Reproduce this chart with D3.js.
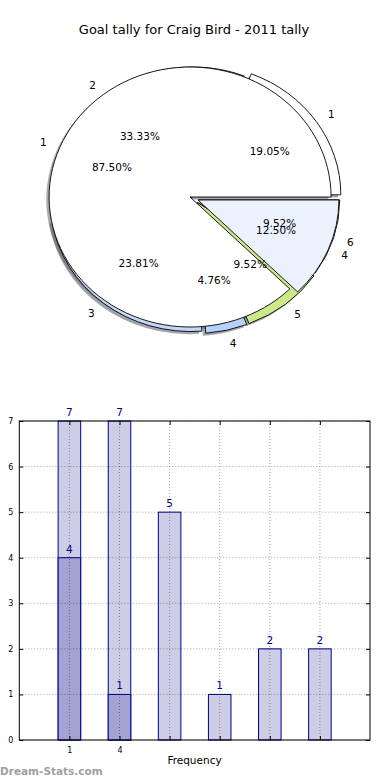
<!DOCTYPE html>
<html><head><meta charset="utf-8">
<script src="https://cdn.jsdelivr.net/npm/d3@7"></script>
<style>
html,body{margin:0;padding:0;background:#fff;}
svg{display:block;font-family:"DejaVu Sans",sans-serif;}
</style></head>
<body><svg id="c" width="390" height="780"></svg>
<script>
// ---- data ----
const title = "Goal tally for Craig Bird - 2011 tally";
const outerLabels = ["1","2","3","4","5","6"];
const outerValues = [4,7,5,1,2,2];
const outerColors = ["#ffffff","#ffffff","#c4d8f8","#b8d1fa","#cde88c","#ffffff"];
const outerExplode = [0.05,0.015,0.03,0.04,0.04,0.035];
const innerLabels = ["1","4"];
const innerValues = [7,1];
const innerColors = ["#ffffff","#ebf1fd"];
const innerExplode = [0.03,0.03];
const barTotals = [7,7,5,1,2,2];
const barOverlay = [4,1];
const xTickLabels = ["1","4"];
const yTicks = [0,1,2,3,4,5,6,7];
const xLabel = "Frequency";
const watermark = "Dream-Stats.com";

(function(){
const svg = d3.select("#c");

svg.append("text").attr("x",194).attr("y",34).attr("text-anchor","middle")
  .attr("font-size",13).attr("fill","#000").text(title);

// ---- pies ----
const cx = 194, cy = 198.5, rx = 141, ry = 130;
const k = ry/rx;
const pieGen = d3.pie().sort(null).startAngle(0).endAngle(2*Math.PI);
const arcGen = d3.arc().innerRadius(0).outerRadius(rx);
const fmt = v => v.toFixed(2) + "%";

function build(values, labels, colors, explode) {
  const total = d3.sum(values);
  return pieGen(values).map((d,i) => {
    const t1 = d.startAngle, t2 = d.endAngle, tm = (t1+t2)/2;
    const e = explode[i];
    return {
      i, label: labels[i], value: values[i], pct: 100*values[i]/total, color: colors[i],
      a0: Math.PI/2 - t2, a1: Math.PI/2 - t1, tm,
      ox: cx + e*rx*Math.cos(tm), oy: cy - e*ry*Math.sin(tm)
    };
  });
}
const outer = build(outerValues, outerLabels, outerColors, outerExplode);
const inner = build(innerValues, innerLabels, innerColors, innerExplode);

const pieG = svg.append("g");
function wedges(data, cls, shadow) {
  pieG.selectAll("path."+cls).data(data).enter().append("path")
    .attr("class", cls)
    .attr("transform", d => shadow
      ? `translate(${d.ox-2.8},${d.oy+2.6}) scale(1,${k})`
      : `translate(${d.ox},${d.oy}) scale(1,${k})`)
    .attr("d", d => arcGen({startAngle:d.a0, endAngle:d.a1}))
    .attr("fill", d => shadow ? d3.color(d.color).darker(3).formatHex() : d.color)
    .attr("fill-opacity", shadow ? 0.5 : 1)
    .attr("stroke", shadow ? "none" : "#000")
    .attr("stroke-width", 0.9)
    .attr("stroke-linejoin","miter")
    .attr("vector-effect","non-scaling-stroke");
}
wedges(outer,"os",true);
wedges(inner,"is",true);
wedges(outer,"ow",false);
wedges(inner,"iw",false);

function labelsFor(data) {
  pieG.selectAll(null).data(data).enter().append("text")
    .attr("x", d => d.ox + 1.1*rx*Math.cos(d.tm))
    .attr("y", d => d.oy - 1.1*ry*Math.sin(d.tm))
    .attr("text-anchor", d => Math.cos(d.tm) > 0 ? "start" : "end")
    .attr("dominant-baseline","central")
    .attr("font-size",10.5).attr("fill","#000")
    .text(d => d.label);
  pieG.selectAll(null).data(data).enter().append("text")
    .attr("x", d => d.ox + 0.6*rx*Math.cos(d.tm))
    .attr("y", d => d.oy - 0.6*ry*Math.sin(d.tm))
    .attr("text-anchor","middle")
    .attr("dominant-baseline","central")
    .attr("font-size",10.5).attr("fill","#000")
    .text(d => fmt(d.pct));
}
labelsFor(outer);
labelsFor(inner);

// ---- bars ----
const pL = 19.3, pR = 370, pT = 421, pB = 740;
const x = d3.scaleLinear().domain([-1,6]).range([pL,pR]);
const y = d3.scaleLinear().domain([0,7]).range([pB,pT]);
const bw = x(0.45) - x(0);
const idx = barTotals.map((v,i)=>i);
const barG = svg.append("g");

barG.selectAll("rect.tot").data(barTotals).enter().append("rect")
  .attr("x",(d,i)=>x(i)-bw/2).attr("y",d=>y(d))
  .attr("width",bw).attr("height",d=>y(0)-y(d))
  .attr("fill","#cdcde6").attr("stroke","#00008b").attr("stroke-width",1);
barG.selectAll("rect.ov").data(barOverlay).enter().append("rect")
  .attr("x",(d,i)=>x(i)-bw/2).attr("y",d=>y(d))
  .attr("width",bw).attr("height",d=>y(0)-y(d))
  .attr("fill","#a3a3d1").attr("stroke","#00008b").attr("stroke-width",1);

// grid (drawn above bars)
const gridG = svg.append("g").attr("stroke","#000").attr("stroke-opacity",0.35)
  .attr("stroke-width",1).attr("stroke-dasharray","1,2");
gridG.selectAll(null).data(idx).enter().append("line")
  .attr("x1",d=>x(d)).attr("x2",d=>x(d)).attr("y1",pT).attr("y2",pB);
gridG.selectAll(null).data(yTicks).enter().append("line")
  .attr("x1",pL).attr("x2",pR).attr("y1",d=>y(d)).attr("y2",d=>y(d));

// value labels
const lab = svg.append("g").attr("font-size",10.5).attr("fill","#00008b").attr("text-anchor","middle");
lab.selectAll(null).data(barTotals).enter().append("text")
  .attr("x",(d,i)=>x(i)).attr("y",d=>y(d)-5).text(d=>d);
lab.selectAll(null).data(barOverlay).enter().append("text")
  .attr("x",(d,i)=>x(i)).attr("y",d=>y(d)-5).text(d=>d);

// axes
const yAx = svg.append("g").attr("transform",`translate(${pL},0)`)
  .call(d3.axisLeft(y).tickValues(yTicks).tickFormat(d3.format("d")).tickSizeInner(-4).tickSizeOuter(0).tickPadding(6));
const yAxR = svg.append("g").attr("transform",`translate(${pR},0)`)
  .call(d3.axisRight(y).tickValues(yTicks).tickSizeInner(-4).tickSizeOuter(0).tickFormat(""));
const xAx = svg.append("g").attr("transform",`translate(0,${pB})`)
  .call(d3.axisBottom(x).tickValues(idx).tickSizeInner(-4).tickSizeOuter(0).tickPadding(7)
    .tickFormat((d,i)=> xTickLabels[i] || ""));
const xAxT = svg.append("g").attr("transform",`translate(0,${pT})`)
  .call(d3.axisTop(x).tickValues(idx).tickSizeInner(-4).tickSizeOuter(0).tickFormat(""));
[yAx,yAxR,xAx,xAxT].forEach(g=>{
  g.select(".domain").remove();
  g.selectAll("text").attr("font-family","DejaVu Sans").attr("font-size",8).attr("fill","#000");
  g.selectAll("line").attr("stroke","#000");
});
svg.append("rect").attr("x",pL).attr("y",pT).attr("width",pR-pL).attr("height",pB-pT)
  .attr("fill","none").attr("stroke","#000").attr("stroke-width",1);

svg.append("text").attr("x",194.5).attr("y",764).attr("text-anchor","middle")
  .attr("font-size",10.5).attr("fill","#000").text(xLabel);
svg.append("text").attr("x",0).attr("y",775).attr("font-size",10.5).attr("font-weight","bold")
  .attr("fill","#a0a0a0").text(watermark);
})();
</script></body></html>
